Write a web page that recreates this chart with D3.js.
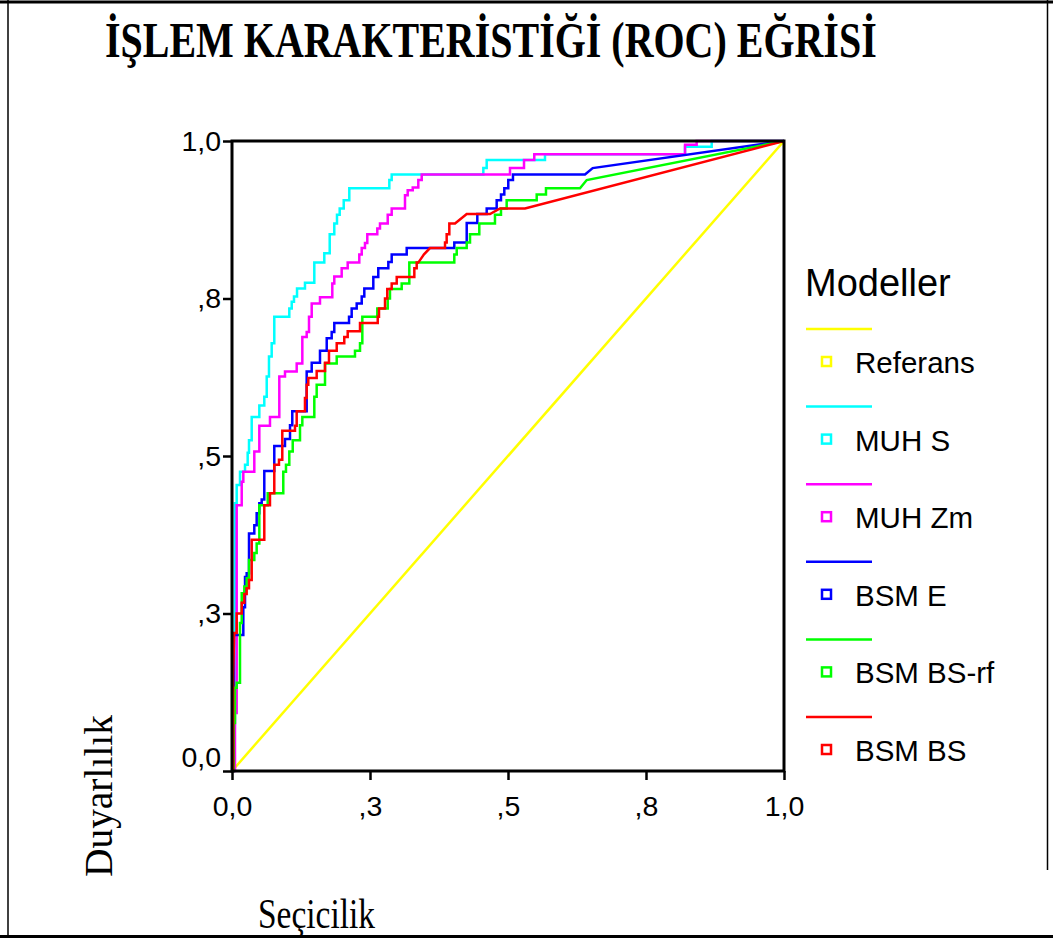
<!DOCTYPE html>
<html>
<head>
<meta charset="utf-8">
<script src="https://d3js.org/d3.v7.min.js"></script>
<style>
  html, body { margin: 0; padding: 0; background: #fff; }
  svg { display: block; }
</style>
</head>
<body>
<div id="chart"></div>
<script>
// ROC curve data: [1 - specificity, sensitivity] vertices
const tickValues = [0, 0.25, 0.5, 0.75, 1];
const tickLabels = ["0,0", ",3", ",5", ",8", "1,0"];

const modelNames = ["Referans", "MUH S", "MUH Zm", "BSM E", "BSM BS-rf", "BSM BS"];

const referans = [[0, 0], [1, 1]];

const muhS = [[0,0],[0.005,0.05],[0.005,0.425],[0.0085,0.425],[0.0085,0.454],[0.0145,0.454],[0.0145,0.475],
  [0.0236,0.475],[0.0236,0.486],[0.0284,0.486],[0.0284,0.505],[0.0308,0.505],[0.0308,0.525],[0.0357,0.525],
  [0.0357,0.562],[0.0495,0.562],[0.0495,0.580],[0.0585,0.580],[0.0585,0.594],[0.0629,0.594],[0.0629,0.626],
  [0.0670,0.626],[0.0670,0.658],[0.0719,0.658],[0.0719,0.679],[0.0766,0.679],[0.0766,0.721],[0.1038,0.721],
  [0.1038,0.734],[0.1082,0.734],[0.1082,0.745],[0.1123,0.745],[0.1123,0.753],[0.1178,0.753],[0.1178,0.766],
  [0.1322,0.766],[0.1322,0.775],[0.1491,0.775],[0.1491,0.807],[0.1672,0.807],[0.1672,0.822],[0.1770,0.822],
  [0.1770,0.852],[0.1853,0.852],[0.1853,0.869],[0.1902,0.869],[0.1902,0.883],[0.1951,0.883],[0.1951,0.893],
  [0.2024,0.893],[0.2024,0.906],[0.2125,0.906],[0.2125,0.925],[0.2850,0.925],[0.2850,0.938],[0.2893,0.938],
  [0.2893,0.947],[0.4553,0.947],[0.4553,0.957],[0.4614,0.957],[0.4614,0.970],[0.5670,0.970],[0.5670,0.979],
  [0.8207,0.979],[0.8207,0.991],[0.8690,0.991],[0.8690,1],[1,1]];

const muhZm = [[0,0],[0.0054,0],[0.0054,0.092],[0.0085,0.092],[0.0085,0.422],[0.0176,0.422],[0.0176,0.459],
  [0.0205,0.459],[0.0205,0.475],[0.0404,0.475],[0.0404,0.507],[0.0495,0.507],[0.0495,0.548],[0.0688,0.548],
  [0.0688,0.562],[0.0857,0.562],[0.0857,0.626],[0.0960,0.626],[0.0960,0.634],[0.1172,0.634],[0.1172,0.647],
  [0.1274,0.647],[0.1274,0.689],[0.1353,0.689],[0.1353,0.697],[0.1395,0.697],[0.1395,0.721],[0.1444,0.721],
  [0.1444,0.742],[0.1594,0.742],[0.1594,0.752],[0.1817,0.752],[0.1817,0.774],[0.1853,0.774],[0.1853,0.785],
  [0.1987,0.785],[0.1987,0.798],[0.2096,0.798],[0.2096,0.807],[0.2306,0.807],[0.2306,0.820],[0.2350,0.820],
  [0.2350,0.830],[0.2409,0.830],[0.2409,0.838],[0.2451,0.838],[0.2451,0.852],[0.2632,0.852],[0.2632,0.861],
  [0.2681,0.861],[0.2681,0.869],[0.2821,0.869],[0.2821,0.883],[0.2893,0.883],[0.2893,0.893],[0.3134,0.893],
  [0.3134,0.914],[0.3183,0.914],[0.3183,0.922],[0.3274,0.922],[0.3274,0.926],[0.3375,0.926],[0.3375,0.938],
  [0.3437,0.938],[0.3437,0.947],[0.5036,0.947],[0.5036,0.957],[0.5290,0.957],[0.5290,0.970],[0.5476,0.970],
  [0.5476,0.979],[0.8207,0.979],[0.8207,0.994],[0.8418,0.994],[0.8418,1],[1,1]];

const bsmE = [[0,0],[0.003,0],[0.003,0.216],[0.0176,0.216],[0.0205,0.216],[0.0205,0.26],[0.0236,0.26],
  [0.0236,0.308],[0.0266,0.308],[0.0266,0.314],[0.0308,0.314],[0.0308,0.377],[0.0404,0.377],[0.0404,0.390],
  [0.0447,0.390],[0.0447,0.409],[0.0495,0.409],[0.0495,0.425],[0.0538,0.425],[0.0538,0.431],[0.0585,0.431],
  [0.0585,0.476],[0.0766,0.476],[0.0766,0.516],[0.0960,0.516],[0.0960,0.527],[0.1051,0.527],[0.1051,0.549],
  [0.1092,0.549],[0.1092,0.571],[0.1353,0.571],[0.1353,0.634],[0.1444,0.634],[0.1444,0.648],[0.1594,0.648],
  [0.1594,0.667],[0.1716,0.667],[0.1716,0.687],[0.1806,0.687],[0.1806,0.697],[0.1853,0.697],[0.1853,0.711],
  [0.2120,0.711],[0.2120,0.721],[0.2168,0.721],[0.2168,0.734],[0.2259,0.734],[0.2259,0.742],[0.2350,0.742],
  [0.2350,0.753],[0.2397,0.753],[0.2397,0.766],[0.2560,0.766],[0.2560,0.784],[0.2650,0.784],[0.2650,0.798],
  [0.2832,0.798],[0.2832,0.808],[0.2893,0.808],[0.2893,0.820],[0.3165,0.820],[0.3165,0.830],[0.4027,0.830],
  [0.4027,0.839],[0.4252,0.839],[0.4252,0.870],[0.4444,0.870],[0.4444,0.884],[0.4614,0.884],[0.4614,0.893],
  [0.4795,0.893],[0.4795,0.906],[0.4873,0.906],[0.4873,0.915],[0.4933,0.915],[0.4933,0.925],[0.5005,0.925],
  [0.5005,0.938],[0.509,0.938],[0.509,0.947],[0.6395,0.947],[0.6534,0.957],[1,1]];

const bsmBSrf = [[0,0],[0.003,0],[0.003,0.076],[0.0054,0.076],[0.0054,0.132],[0.0085,0.132],[0.0085,0.140],
  [0.0145,0.140],[0.0145,0.235],[0.0176,0.235],[0.0176,0.282],[0.0223,0.282],[0.0223,0.293],[0.0266,0.293],
  [0.0266,0.306],[0.0308,0.306],[0.0308,0.335],[0.0404,0.335],[0.0404,0.346],[0.0447,0.346],[0.0447,0.361],
  [0.0495,0.361],[0.0495,0.422],[0.0647,0.422],[0.0647,0.441],[0.0929,0.441],[0.0929,0.475],[0.0978,0.475],
  [0.0978,0.486],[0.1038,0.486],[0.1038,0.507],[0.1100,0.507],[0.1100,0.525],[0.1232,0.525],[0.1232,0.549],
  [0.1274,0.549],[0.1274,0.562],[0.1491,0.562],[0.1491,0.594],[0.1534,0.594],[0.1534,0.613],[0.1685,0.613],
  [0.1685,0.647],[0.1897,0.647],[0.1897,0.658],[0.2228,0.658],[0.2228,0.667],[0.2319,0.667],[0.2319,0.679],
  [0.2361,0.679],[0.2361,0.721],[0.2632,0.721],[0.2632,0.734],[0.2821,0.734],[0.2821,0.750],[0.2862,0.750],
  [0.2862,0.765],[0.3074,0.765],[0.3074,0.774],[0.3212,0.774],[0.3212,0.807],[0.4027,0.807],[0.4027,0.820],
  [0.4071,0.820],[0.4071,0.830],[0.4252,0.830],[0.4252,0.839],[0.4312,0.839],[0.4312,0.852],[0.4480,0.852],
  [0.4480,0.869],[0.4764,0.869],[0.4764,0.883],[0.4873,0.883],[0.4873,0.893],[0.4976,0.893],[0.4976,0.906],
  [0.5520,0.906],[0.5520,0.915],[0.5688,0.915],[0.5688,0.925],[0.6304,0.925],[0.6426,0.938],[1,1]];

const bsmBS = [[0,0],[0.002,0],[0.002,0.15],[0.004,0.219],[0.0085,0.219],[0.0085,0.250],[0.0176,0.250],
  [0.0176,0.267],[0.0223,0.267],[0.0223,0.281],[0.0266,0.281],[0.0266,0.290],[0.0308,0.290],[0.0308,0.303],
  [0.0357,0.303],[0.0357,0.367],[0.0585,0.367],[0.0585,0.422],[0.0688,0.422],[0.0688,0.441],[0.0766,0.441],
  [0.0766,0.486],[0.0851,0.486],[0.0851,0.494],[0.0911,0.494],[0.0911,0.540],[0.1141,0.540],[0.1141,0.548],
  [0.1172,0.548],[0.1172,0.571],[0.1322,0.571],[0.1322,0.592],[0.1353,0.592],[0.1353,0.613],[0.1382,0.613],
  [0.1382,0.624],[0.1534,0.624],[0.1534,0.635],[0.1685,0.635],[0.1685,0.648],[0.1757,0.648],[0.1757,0.667],
  [0.1897,0.667],[0.1897,0.679],[0.2034,0.679],[0.2034,0.689],[0.2096,0.689],[0.2096,0.698],[0.2319,0.698],
  [0.2319,0.711],[0.2640,0.711],[0.2640,0.721],[0.2663,0.721],[0.2663,0.734],[0.2772,0.734],[0.2772,0.750],
  [0.2813,0.750],[0.2813,0.765],[0.2893,0.765],[0.2893,0.774],[0.2984,0.774],[0.2984,0.784],[0.3303,0.784],
  [0.3303,0.798],[0.3346,0.798],[0.3346,0.807],[0.3375,0.807],[0.3478,0.820],[0.3587,0.830],[0.3859,0.830],
  [0.3859,0.839],[0.3889,0.839],[0.3889,0.852],[0.3937,0.852],[0.3937,0.869],[0.4040,0.869],[0.4252,0.884],
  [0.4674,0.884],[0.4855,0.893],[0.5308,0.893],[1,1]];

const seriesData = [referans, muhS, muhZm, bsmE, bsmBSrf, bsmBS];
const seriesColors = ["#ffff00", "#00ffff", "#ff00ff", "#0000ff", "#00ff00", "#ff0000"];

// Layout
const W = 1053, H = 940;
const plot = { left: 232, top: 141, right: 784, bottom: 771 };
const sans = "'Liberation Sans', Arial, sans-serif";
const serif = "'Liberation Serif', 'Times New Roman', serif";

const svg = d3.select("#chart").append("svg")
  .attr("width", W).attr("height", H);

// outer frame
const frame = svg.append("g").attr("stroke", "#000").attr("fill", "none");
frame.append("line").attr("x1", 0).attr("x2", W).attr("y1", 2).attr("y2", 2).attr("stroke-width", 3);
frame.append("line").attr("x1", 8).attr("x2", 8).attr("y1", 0).attr("y2", 937).attr("stroke-width", 1.5);
frame.append("line").attr("x1", 0).attr("x2", W).attr("y1", 936.5).attr("y2", 936.5).attr("stroke-width", 3);
frame.append("line").attr("x1", 1047.5).attr("x2", 1047.5).attr("y1", 0).attr("y2", 870).attr("stroke-width", 1.5);

// title: condensed bold serif, squeezed horizontally to the reference width
const title = svg.append("text")
  .attr("x", 0).attr("y", 0)
  .attr("font-family", serif).attr("font-weight", "bold").attr("font-size", 50)
  .text("İŞLEM KARAKTERİSTİĞİ (ROC) EĞRİSİ");
const titleW = title.node().getComputedTextLength();
title.attr("transform", `translate(105,57) scale(${772 / titleW},1)`);

const x = d3.scaleLinear().domain([0, 1]).range([plot.left, plot.right]);
const y = d3.scaleLinear().domain([0, 1]).range([plot.bottom, plot.top]);

// curves
const line = d3.line().x(d => x(d[0])).y(d => y(d[1]));
svg.append("g")
  .selectAll("path")
  .data(seriesData)
  .join("path")
  .attr("d", line)
  .attr("fill", "none")
  .attr("stroke", (d, i) => seriesColors[i])
  .attr("stroke-width", 2.5)
  .attr("stroke-linejoin", "miter");

// plot frame
svg.append("rect")
  .attr("x", plot.left).attr("y", plot.top)
  .attr("width", plot.right - plot.left).attr("height", plot.bottom - plot.top)
  .attr("fill", "none").attr("stroke", "#000").attr("stroke-width", 3);

// axes
const xAxis = svg.append("g")
  .attr("transform", `translate(0,${plot.bottom})`)
  .call(d3.axisBottom(x).tickValues(tickValues).tickFormat((d, i) => tickLabels[i]).tickSize(9).tickPadding(16));
const yAxis = svg.append("g")
  .attr("transform", `translate(${plot.left},0)`)
  .call(d3.axisLeft(y).tickValues(tickValues).tickFormat((d, i) => tickLabels[i]).tickSize(9).tickPadding(2));

[xAxis, yAxis].forEach(a => {
  a.select(".domain").remove();
  a.selectAll(".tick line").attr("stroke", "#000").attr("stroke-width", 2.5);
  a.selectAll(".tick text").attr("font-family", sans).attr("font-size", 28.5).attr("fill", "#000");
});
// bottom y label sits slightly above the axis
yAxis.selectAll(".tick text").filter(d => d === 0).attr("dy", "-0.15em");

// axis titles
svg.append("text")
  .attr("transform", "translate(112,796) rotate(-90)")
  .attr("text-anchor", "middle")
  .attr("font-family", serif).attr("font-size", 40)
  .attr("textLength", 162).attr("lengthAdjust", "spacingAndGlyphs")
  .text("Duyarlılık");

svg.append("text")
  .attr("x", 258).attr("y", 928)
  .attr("font-family", serif).attr("font-size", 42)
  .attr("textLength", 117).attr("lengthAdjust", "spacingAndGlyphs")
  .text("Seçicilik");

// legend
const legend = svg.append("g");
legend.append("text")
  .attr("x", 805).attr("y", 296)
  .attr("font-family", sans).attr("font-size", 38)
  .text("Modeller");

const rowStep = 77.6;
const rows = legend.selectAll("g.row")
  .data(modelNames)
  .join("g")
  .attr("class", "row")
  .attr("transform", (d, i) => `translate(0,${329 + i * rowStep})`);

rows.append("line")
  .attr("x1", 806).attr("x2", 872).attr("y1", 0).attr("y2", 0)
  .attr("stroke", (d, i) => seriesColors[i]).attr("stroke-width", 2.5);
rows.append("rect")
  .attr("x", 822).attr("y", 28).attr("width", 9).attr("height", 9)
  .attr("fill", "none").attr("stroke", (d, i) => seriesColors[i]).attr("stroke-width", 2.5);
rows.append("text")
  .attr("x", 855).attr("y", 44)
  .attr("font-family", sans).attr("font-size", 29.5)
  .text(d => d);
</script>
</body>
</html>
